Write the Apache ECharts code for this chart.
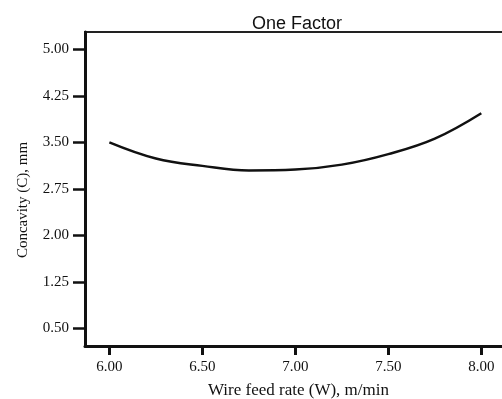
<!DOCTYPE html>
<html>
<head>
<meta charset="utf-8">
<script src="https://cdn.jsdelivr.net/npm/echarts@6/dist/echarts.min.js"></script>
<style>html,body{margin:0;padding:0;background:#fff}#c{width:502px;height:399px}</style>
</head>
<body>
<div id="c"></div>
<script>
const titleText = 'One Factor';
const xName = 'Wire feed rate (W), m/min';
const yName = 'Concavity (C), mm';
const wireFeed = [6.00, 6.25, 6.50, 6.75, 7.00, 7.25, 7.50, 7.75, 8.00];
const concavity = [3.50, 3.24, 3.12, 3.045, 3.06, 3.14, 3.31, 3.56, 3.97];
const xTicks = [6.00, 6.50, 7.00, 7.50, 8.00];
const yTicks = [0.50, 1.25, 2.00, 2.75, 3.50, 4.25, 5.00];

const chart = echarts.init(document.getElementById('c'), null, {renderer: 'canvas'});
const serif = '"Liberation Serif", "DejaVu Serif", serif';
chart.setOption({
  animation: false,
  backgroundColor: '#fff',
  title: {
    text: titleText, left: 247, top: 10,
    textStyle: {fontFamily: '"Liberation Sans", Arial, sans-serif', fontSize: 18, fontWeight: 'normal', color: '#111'}
  },
  grid: {left: 85, top: 32, right: -10, bottom: 53, outerBoundsMode: 'none', containLabel: false,
         show: true, borderColor: '#222', borderWidth: 2, backgroundColor: 'transparent'},
  xAxis: {
    type: 'value', min: 5.869, max: 8.165,
    name: xName, nameLocation: 'middle', nameGap: 36,
    nameTextStyle: {fontFamily: serif, fontSize: 17, color: '#111'},
    axisLine: {show: true, onZero: false, lineStyle: {color: '#111', width: 3}},
    axisTick: {show: true, length: 9, lineStyle: {color: '#111', width: 3}, customValues: xTicks},
    axisLabel: {fontFamily: serif, fontSize: 15, color: '#111', margin: 14, customValues: xTicks, formatter: v => v.toFixed(2)},
    splitLine: {show: false}
  },
  yAxis: {
    type: 'value', min: 0.214, max: 5.28,
    name: yName, nameLocation: 'middle', nameGap: 54,
    nameTextStyle: {fontFamily: serif, fontSize: 15, color: '#111', padding: [0, 22, 0, 0]},
    axisLine: {show: true, onZero: false, lineStyle: {color: '#111', width: 3}},
    axisTick: {show: true, length: 12, lineStyle: {color: '#111', width: 2.5}, customValues: yTicks},
    axisLabel: {fontFamily: serif, fontSize: 15, color: '#111', margin: 16, customValues: yTicks, formatter: v => v.toFixed(2)},
    splitLine: {show: false}
  },
  series: [{
    type: 'line', smooth: 0.4, symbol: 'none',
    lineStyle: {color: '#111', width: 2.5},
    data: wireFeed.map((x, i) => [x, concavity[i]])
  }]
});
</script>
</body>
</html>
